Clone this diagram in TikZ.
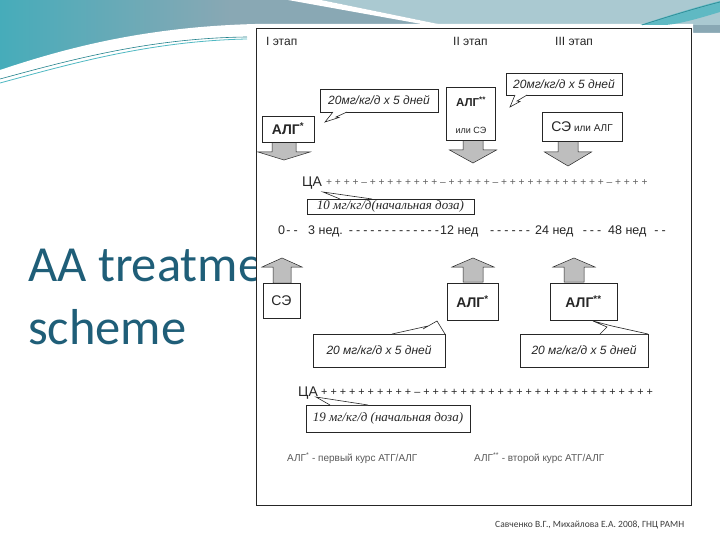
\documentclass[tikz,border=0pt]{standalone}
\usepackage{fontspec}
\setmainfont{Liberation Sans}
\newfontfamily\titlefont{Carlito}
\newfontfamily\scanserif{Liberation Serif}
\definecolor{bandgrey}{RGB}{137,168,180}
\definecolor{bandlight}{RGB}{170,201,209}
\definecolor{tealL}{RGB}{70,172,186}
\definecolor{tealS}{RGB}{95,185,195}
\definecolor{tealdark}{RGB}{35,130,140}
\definecolor{teallight}{RGB}{80,185,195}
\definecolor{titleblue}{RGB}{31,94,120}
\definecolor{ink}{RGB}{38,38,38}
\definecolor{arrowfill}{RGB}{190,190,190}
\definecolor{footgrey}{RGB}{60,60,60}
\newcommand\blkarrow[6]{\draw[blk] (#1-#2,#4) -- (#1-#2,#5) -- (#1-#3,#5) -- (#1,#6) -- (#1+#3,#5) -- (#1+#2,#5) -- (#1+#2,#4) -- cycle;}
\begin{document}
\begin{tikzpicture}[x=1pt,y=-1pt,
  frame/.style={draw=ink, line width=0.8pt, fill=white},
  box/.style={draw=ink, line width=0.6pt, fill=white, inner sep=0pt},
  tail/.style={draw=ink, line width=0.6pt, fill=white, line join=miter},
  blk/.style={draw=ink, line width=0.5pt, fill=arrowfill},
  txt/.style={inner sep=0pt, text=ink},
  hdr/.style={txt, font=\fontsize{12}{14}\selectfont},
  cit/.style={txt, font=\itshape\fontsize{12}{14}\selectfont},
  sit/.style={txt, font=\scanserif\itshape\fontsize{13}{15}\selectfont},
  bold14/.style={txt, font=\bfseries\fontsize{14}{16}\selectfont},
  tl/.style={txt, font=\fontsize{12.5}{15}\selectfont},
  ]
\useasboundingbox (0,0) rectangle (720,540);
% ---- slide background ----
\fill[white] (0,0) rectangle (720,540);
\fill[bandgrey] (0,0) rectangle (720,100);
\shade[left color=tealL, right color=bandgrey] (0,0) rectangle (230,100);
\fill[bandlight] (321,0) -- (720,0) -- (720,25) -- (443,25) -- cycle;
\fill[white] (288,0) -- (321,0) -- (443,25) -- (427,25) -- cycle;
\fill[white] (0,70) .. controls (60,50) and (140,27) .. (255,24) -- (693,24) -- (693,33) -- (720,33) -- (720,540) -- (0,540) -- cycle;
\fill[tealS] (640,25) .. controls (670,15) and (700,6) .. (720,1) -- (720,12) .. controls (700,18) and (680,24) .. (665,25) -- cycle;
\draw[tealdark, line width=0.5pt] (642,25) .. controls (670,16) and (700,7) .. (720,2);
\draw[tealdark, line width=0.6pt] (0,79) .. controls (70,60) and (150,38) .. (247,37);
\draw[teallight, line width=0.8pt] (0,83) .. controls (70,64) and (150,41) .. (247,39);
% ---- title ----
\node[anchor=base west, inner sep=0pt, font=\titlefont\fontsize{50.5}{60}\selectfont, text=titleblue] (t1) at (28,281) {AA treatme};
\node[anchor=base west, inner sep=0pt, font=\titlefont\fontsize{50.5}{60}\selectfont, text=titleblue] (t2) at (28,344) {scheme};
% ---- scanned panel ----
\draw[frame] (256,28) rectangle (691,505);
% headers
\node[hdr, anchor=base west] (h1) at (266,46) {I этап};
\node[hdr, anchor=base west] (h2) at (453,46) {II этап};
\node[hdr, anchor=base west] (h3) at (555,46) {III этап};
% block arrows
\blkarrow{284}{12}{26}{142}{152}{160}
\blkarrow{473}{10}{23.5}{140}{150}{163}
\blkarrow{568}{10}{23.5}{141}{152}{166}
\blkarrow{282}{9}{20}{283}{267}{258}
\blkarrow{473}{10}{21}{282}{267}{258}
\blkarrow{574}{10}{21}{282}{267}{258}
% top boxes
\node[box, bold14, minimum width=52, minimum height=26] (alg1) at (288,129) {АЛГ\textsuperscript{*}};
\node[box, minimum width=49, minimum height=53] (alg2) at (470.5,113.5) {};
\node[txt, font=\bfseries\fontsize{11.5}{13}\selectfont] (alg2a) at (471,102) {АЛГ\textsuperscript{**}};
\node[txt, font=\fontsize{9}{11}\selectfont] (alg2b) at (471,130) {или СЭ};
\node[box, txt, minimum width=80, minimum height=29] (sealg) at (582,126.5) {{\fontsize{14}{16}\selectfont СЭ} {\fontsize{10}{12}\selectfont или АЛГ}};
% top callouts
\node[box, cit, minimum width=118, minimum height=23] (co1) at (379,100.5) {20мг/кг/д х 5 дней};
\draw[tail] (347,112) -- (336,117) -- (339,117.5) -- (325,122) -- (333,112);
\node[box, cit, minimum width=116, minimum height=22] (co2) at (564,84) {20мг/кг/д х 5 дней};
\draw[tail] (527,95) -- (517,101) -- (520,101.5) -- (510,107) -- (515,95);
% first CA line
\node[txt, font=\fontsize{14}{16}\selectfont, anchor=base west] (ca1) at (302,187) {ЦА};
\node[txt, font=\fontsize{10.2}{12}\selectfont, text=gray!75!black, anchor=base west] (pl1) at (326,186) {+ + + + – + + + + + + + + – + + + + + – + + + + + + + + + + + + – + + + +};
\node[box, sit, line width=0.8pt, minimum width=167, minimum height=15] (co5) at (390.5,206.5) {10 мг/кг/д(начальная доза)};
\draw[tail] (340,199) -- (323,192) -- (372,199);
% timeline
\node[tl, anchor=base west] (w0) at (278,234) {0};
\node[tl, anchor=base] (d0) at (292,234) {\spaceskip=3pt - -};
\node[tl, anchor=base west] (w3) at (308,234) {3 нед.};
\node[tl, anchor=base] (d3) at (394,234) {\spaceskip=3pt - - - - - - - - - - - - -};
\node[tl, anchor=base west] (w12) at (440,234) {12 нед};
\node[tl, anchor=base] (d12) at (510,234) {\spaceskip=3pt - - - - - -};
\node[tl, anchor=base west] (w24) at (535,234) {24 нед};
\node[tl, anchor=base] (d24) at (592,234) {\spaceskip=3pt - - -};
\node[tl, anchor=base west] (w48) at (608,234) {48 нед};
\node[tl, anchor=base] (d48) at (660,234) {\spaceskip=3pt - -};
% bottom boxes
\node[box, txt, font=\fontsize{14}{16}\selectfont, minimum width=37, minimum height=35] (se) at (281.5,300.5) {СЭ};
\node[box, bold14, minimum width=51, minimum height=37] (alg3) at (472.5,301.5) {АЛГ\textsuperscript{*}};
\node[box, bold14, minimum width=67, minimum height=37] (alg4) at (583.5,301.5) {АЛГ\textsuperscript{**}};
% bottom callouts
\node[box, cit, minimum width=132, minimum height=33] (co3) at (379,350.5) {20 мг/кг/д х 5 дней};
\draw[tail] (392,334) -- (428,326) -- (423,329) -- (437,321) -- (445,334);
\node[box, cit, minimum width=128, minimum height=33] (co4) at (584,350.5) {20 мг/кг/д х 5 дней};
\draw[tail] (600,334) -- (607,327) -- (593,321) -- (612,326) -- (648,334);
% second CA line
\node[txt, font=\fontsize{14}{16}\selectfont, anchor=base west] (ca2) at (298,396) {ЦА};
\node[txt, font=\fontsize{10.8}{12}\selectfont, anchor=base west] (pl2) at (321,395) {+ + + + + + + + + + – + + + + + + + + + + + + + + + + + + + + + + + + +};
\node[box, sit, line width=0.8pt, minimum width=164, minimum height=27] (co6) at (388,418.5) {19 мг/кг/д (начальная доза)};
\draw[tail] (330,405) -- (316,397) -- (368,405);
% legend
\node[txt, font=\fontsize{10}{12}\selectfont, text=gray!70!black, anchor=base west] (lg1) at (287,461) {АЛГ\textsuperscript{*} - первый курс АТГ/АЛГ};
\node[txt, font=\fontsize{10}{12}\selectfont, text=gray!70!black, anchor=base west] (lg2) at (474,461) {АЛГ\textsuperscript{**} - второй курс АТГ/АЛГ};
% footer
\node[anchor=base west, inner sep=0pt, font=\titlefont\fontsize{9.5}{11}\selectfont, text=footgrey] (src) at (495,527) {Савченко В.Г., Михайлова Е.А. 2008, ГНЦ РАМН};
\end{tikzpicture}
\end{document}
